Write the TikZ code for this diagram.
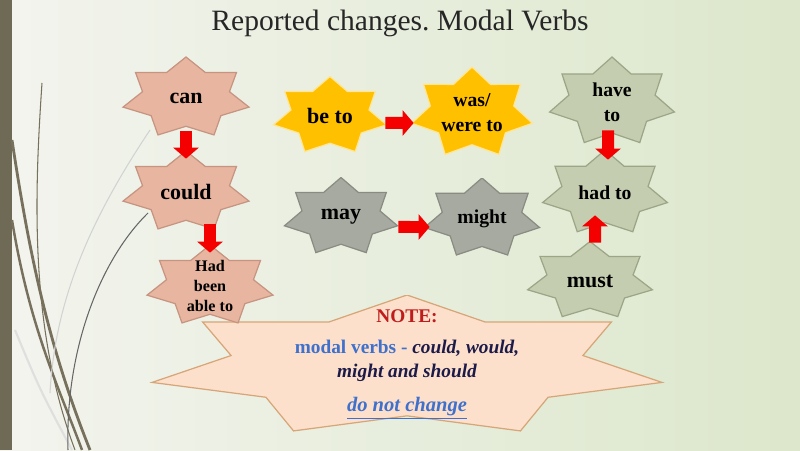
\documentclass[tikz,border=0pt]{standalone}
\usepackage{fontspec}
\setmainfont{Liberation Serif}
\usetikzlibrary{arrows.meta}

\definecolor{bgleft}{RGB}{243,244,238}
\definecolor{bgright}{RGB}{220,231,203}
\definecolor{barolive}{RGB}{111,106,85}
\definecolor{wisp}{RGB}{118,112,92}
\definecolor{salmon}{RGB}{232,181,160}
\definecolor{salmonline}{RGB}{198,148,128}
\definecolor{gold}{RGB}{255,192,0}
\definecolor{goldline}{RGB}{255,230,150}
\definecolor{stone}{RGB}{166,170,160}
\definecolor{stoneline}{RGB}{136,140,130}
\definecolor{sage}{RGB}{196,205,175}
\definecolor{sageline}{RGB}{156,166,134}
\definecolor{peach}{RGB}{253,224,203}
\definecolor{peachline}{RGB}{214,166,120}
\definecolor{arrowred}{RGB}{245,0,0}
\definecolor{notered}{RGB}{192,28,28}
\definecolor{noteblue}{RGB}{62,112,204}
\definecolor{navy}{RGB}{28,26,72}
\definecolor{titlegrey}{RGB}{38,38,38}

\def\px{0.02cm}

\tikzset{
  sevenstar/.style n args={4}{
    minimum width={2*#1*\px}, minimum height={2*#2*\px}, inner sep=0pt,
    align=center, font=\bfseries\fontsize{12.5}{15}\selectfont,
    path picture={
      \filldraw[fill=#3, draw=#4, line width=0.7pt]
        ([shift={(90:{#1*\px} and {#2*\px})}]path picture bounding box.center)
        \foreach \k [evaluate=\k as \f using {mod(\k,2)==0 ? 1 : 0.69}] in {1,...,13}
          { -- ([shift={({90+\k*180/7}:{\f*#1*\px} and {\f*#2*\px})}]path picture bounding box.center) }
        -- cycle;
    }},
  pinkstar/.style 2 args={sevenstar={#1}{#2}{salmon}{salmonline}},
  goldstar/.style 2 args={sevenstar={#1}{#2}{gold}{goldline}},
  greystar/.style 2 args={sevenstar={#1}{#2}{stone}{stoneline}},
  sagestar/.style 2 args={sevenstar={#1}{#2}{sage}{sageline}},
  bigarrow/.style={draw=arrowred, line width=0.24cm,
    -{Triangle[width=0.5cm, length=0.22cm]}},
}

\begin{document}
\begin{tikzpicture}[x=0.02cm, y=0.02cm]
  \useasboundingbox (0,0) rectangle (800,450);
  \shade[left color=bgleft, right color=bgright] (0,0) rectangle (800,450);
  \fill[barolive] (0,0) rectangle (12,450);

  % wisps
  \draw[wisp, line width=0.6pt] (42,367) .. controls (34,250) and (30,120) .. (75,0);
  \draw[wisp, line width=1.6pt] (12,310) .. controls (30,190) and (50,100) .. (90,0);
  \draw[wisp, line width=1.4pt] (12,230) .. controls (30,120) and (60,60) .. (82,0);
  \draw[white!75!gray, line width=1.2pt] (15,120) .. controls (40,60) .. (72,0);
  \draw[gray!35, line width=0.6pt] (150,320) .. controls (90,230) and (55,150) .. (50,57);
  \draw[gray!80!black, line width=0.6pt] (148,237) .. controls (100,190) and (65,100) .. (68,0);

  \node[font=\fontsize{16.8}{20}\selectfont, text=titlegrey] (title) at (400,427) {Reported changes.\ Modal Verbs};

  \node[sevenstar={261.5}{71.5}{peach}{peachline}] (note) at (407,83.5) {};
  \node[font=\bfseries\fontsize{11}{13}\selectfont, text=notered] (notehead) at (407,134) {NOTE:};
  \node[align=center, font=\bfseries\fontsize{11}{13.7}\selectfont] (notebody) at (407,89)
    {\textcolor{noteblue}{modal verbs -} \textcolor{navy}{\itshape could, would,}\\
     \textcolor{navy}{\itshape might and should}};
  \node[font=\bfseries\itshape\fontsize{11.7}{14}\selectfont, text=noteblue] (notetail) at (407,42)
    {\underline{do not change}};

  \node[pinkstar={64.6}{41}] (can) at (186,352) {can};
  \node[pinkstar={64.6}{41}] (could) at (186,258) {could};
  \node[pinkstar={64.6}{41}, font=\bfseries\fontsize{9.2}{11.4}\selectfont] (hadbeen) at (210,164) {Had\\been\\able to};

  \node[goldstar={58}{39.5}] (beto) at (330,334) {be to};
  \node[goldstar={62}{46}, font=\bfseries\fontsize{11.2}{14.2}\selectfont] (wasto) at (472,337) {was/\\were to};

  \node[greystar={58}{39.5}] (may) at (341,233) {may};
  \node[greystar={59}{40.5}, font=\bfseries\fontsize{11.2}{14}\selectfont] (might) at (482,231.5) {might};

  \node[sagestar={64}{45}, font=\bfseries\fontsize{11.2}{14.2}\selectfont] (haveto) at (612,348) {have\\to};
  \node[sagestar={64}{43}, font=\bfseries\fontsize{11.2}{14}\selectfont] (hadto) at (605,257) {had to};
  \node[sagestar={64}{39.5}] (must) at (590,169) {must};

  \draw[bigarrow, shorten <=-0.16cm, shorten >=-0.16cm] (can) -- (could);
  \draw[bigarrow, shorten <=-0.18cm, shorten >=-0.16cm] (hadbeen.north |- could.south) -- (hadbeen.north);
  \draw[bigarrow, shorten <=-0.06cm, shorten >=-0.08cm] ([yshift=-0.14cm]beto.east) -- ([yshift=-0.2cm]wasto.west);
  \draw[bigarrow, shorten <=-0.02cm, shorten >=-0.14cm] ([yshift=-0.2cm]may.east) -- ([yshift=-0.17cm]might.west);
  \draw[bigarrow, shorten <=-0.34cm, shorten >=-0.2cm] ([xshift=-0.08cm]haveto.south) -- ([xshift=0.06cm]hadto.north);
  \draw[bigarrow, shorten <=-0.03cm, shorten >=-0.42cm] ([xshift=0.1cm]must.north) -- ([xshift=-0.2cm]hadto.south);
\end{tikzpicture}
\end{document}
